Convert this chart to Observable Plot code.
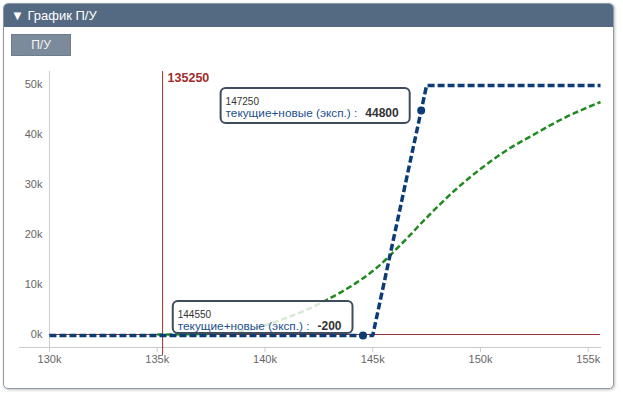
<!DOCTYPE html>
<html><head><meta charset="utf-8">
<script src="https://cdn.jsdelivr.net/npm/d3@7"></script>
<script src="https://cdn.jsdelivr.net/npm/@observablehq/plot@0.6"></script>
<style>
html,body{margin:0;padding:0;background:#fff;width:623px;height:395px;overflow:hidden;font-family:"Liberation Sans",Arial,sans-serif;}
#panel{position:absolute;left:3px;top:3px;width:609px;height:384px;border:1px solid #8e9aa8;border-radius:5px;box-shadow:1px 1px 3px rgba(0,0,0,0.25);background:#fff;overflow:hidden;}
#head{height:23px;background:#546a83;color:#fff;font-size:13px;line-height:23px;padding-left:7px;}
#btn{position:absolute;left:7px;top:30px;width:58px;height:20px;background:#7b8b9b;border:1px solid #6d7d8e;color:#f4f4f4;font-size:12px;line-height:20px;text-align:center;}
#chart{position:absolute;left:0;top:0;}
</style></head>
<body>
<div id="panel"><div id="head">▼ График П/У</div><div id="btn">П/У</div></div>
<div id="chart"></div>
<script>
// data
const xDomain = [128610, 155570];
const yDomain = [-2600, 52600];
const xTicks = [130000, 135000, 140000, 145000, 150000, 155000];
const yTicks = [0, 10000, 20000, 30000, 40000, 50000];
const currentPrice = [135250];
const blueX = [130000, 145000, 147500, 155570];
const blueY = [-200, -200, 49800, 49800];
const greenX = [135000, 137000, 138400, 139600, 140400, 141900, 142900, 143900, 145200, 146400, 147600, 148800, 150000, 151200, 152400, 153700, 155570];
const greenY = [0, 80, 300, 1300, 2400, 4900, 7000, 9400, 13400, 18400, 23800, 28800, 33100, 36800, 39800, 42900, 46500];
const tipX = [144550, 147250];
const tipY = [-200, 44800];
const tipLabel = "текущие+новые (эксп.) :";

const blue = blueX.map((x, i) => ({x, y: blueY[i]}));
const green = greenX.map((x, i) => ({x, y: greenY[i]}));
const tips = tipX.map((x, i) => ({x, y: tipY[i]}));
const kfmt = d => d / 1000 + "k";

const chart = Plot.plot({
  width: 623, height: 395,
  marginLeft: 19, marginRight: 23, marginTop: 71, marginBottom: 48,
  style: {background: "transparent", fontFamily: "'Liberation Sans', Arial, sans-serif"},
  x: {domain: xDomain},
  y: {domain: yDomain, axis: null},
  marks: [
    Plot.ruleX([xTicks[0]], {stroke: "#c8ccd2", strokeWidth: 1}),
    Plot.frame({anchor: "bottom", stroke: "#c8ccd2"}),
    Plot.axisX({ticks: xTicks, tickSize: 5, tickPadding: 3, tickFormat: kfmt, fontSize: 11, color: "#666", stroke: "#c8ccd2", label: null}),
    Plot.text(yTicks, {x: () => xTicks[0], y: d => d, text: kfmt, dx: -7, textAnchor: "end", fontSize: 11, fill: "#666"}),
    Plot.ruleY([0], {x1: xTicks[0], x2: xDomain[1], stroke: "#9b3030", strokeWidth: 1}),
    Plot.ruleX(currentPrice, {stroke: "#9b3030", strokeWidth: 1, insetBottom: -8}),
    Plot.text(currentPrice, {x: d => d, y: () => yDomain[1], text: d => String(d), dx: 5, dy: 6, textAnchor: "start", fill: "#a32b2b", fontSize: 12.5, fontWeight: "bold"}),
    Plot.line(green, {x: "x", y: "y", curve: "monotone-x", stroke: "#1f8a1f", strokeWidth: 2.5, strokeDasharray: "6,3", strokeLinecap: "butt"}),
    Plot.line(blue, {x: "x", y: "y", stroke: "#0c3c78", strokeWidth: 3.5, strokeDasharray: "7,3", strokeLinecap: "butt"}),
    Plot.dot(tips, {x: "x", y: "y", r: 4, fill: "#0c3c78", stroke: "none"})
  ]
});
document.getElementById("chart").appendChild(chart);

// tooltips placed through the chart's own scales
const sx = chart.scale("x"), sy = chart.scale("y");
const svg = d3.select(chart);
const layout = [{gap: 10, top: -34, h: 32}, {gap: 11, top: -22, h: 35}];
tips.forEach((t, i) => {
  const px = sx.apply(t.x), py = sy.apply(t.y);
  const L = layout[i];
  const g = svg.append("g").attr("text-anchor", "start");
  const rect = g.append("rect");
  const t1 = g.append("text").text(String(t.x)).attr("font-size", 10).attr("fill", "#333");
  const t2 = g.append("text").text(tipLabel).attr("font-size", 11.8).attr("fill", "#1c4f8f");
  const t3 = g.append("text").text(String(t.y)).attr("font-size", 12).attr("fill", "#333").attr("font-weight", "bold");
  const lw = t2.node().getComputedTextLength();
  const vw = t3.node().getComputedTextLength();
  const w = 5 + lw + 8 + vw + 11;
  const left = px - L.gap - w, top = py + L.top;
  rect.attr("x", left).attr("y", top).attr("width", w).attr("height", L.h)
    .attr("rx", 5).attr("fill", "#fff").attr("fill-opacity", 0.82)
    .attr("stroke", "#3e4c5d").attr("stroke-width", 2);
  t1.attr("x", left + 5).attr("y", top + 16.5);
  t2.attr("x", left + 5).attr("y", top + 29);
  t3.attr("x", left + 5 + lw + 8).attr("y", top + 29);
});
</script>
</body></html>
